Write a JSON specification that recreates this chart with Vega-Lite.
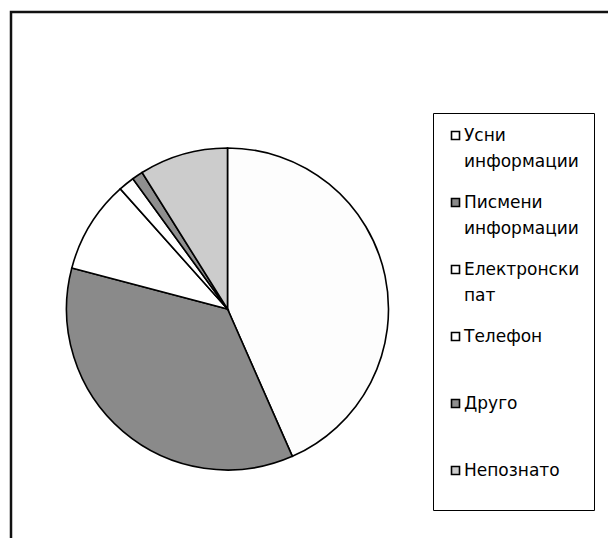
{
  "$schema": "https://vega.github.io/schema/vega-lite/v6.json",
  "width": 600,
  "height": 530,
  "padding": {"left": 11, "top": 12, "right": 0, "bottom": 0},
  "autosize": {"type": "none"},
  "background": "white",
  "view": {"stroke": "#111111", "strokeWidth": 2.5},
  "data": {
    "values": [
      {"source": "Усни информации", "share": 43.4, "order": 1},
      {"source": "Писмени информации", "share": 35.7, "order": 2},
      {"source": "Електронски пат", "share": 9.3, "order": 3},
      {"source": "Телефон", "share": 1.6, "order": 4},
      {"source": "Друго", "share": 1.1, "order": 5},
      {"source": "Непознато", "share": 8.9, "order": 6}
    ]
  },
  "mark": {
    "type": "arc",
    "outerRadius": 161,
    "x": 216.5,
    "y": 297,
    "stroke": "#000000",
    "strokeWidth": 1.6
  },
  "encoding": {
    "theta": {"field": "share", "type": "quantitative", "stack": true},
    "order": {"field": "order", "type": "quantitative"},
    "color": {
      "field": "source",
      "type": "nominal",
      "sort": ["Усни информации", "Писмени информации", "Електронски пат", "Телефон", "Друго", "Непознато"],
      "scale": {
        "domain": ["Усни информации", "Писмени информации", "Електронски пат", "Телефон", "Друго", "Непознато"],
        "range": ["#fdfdfd", "#8a8a8a", "#ffffff", "#ffffff", "#8f8f8f", "#cccccc"]
      },
      "legend": {
        "title": null,
        "orient": "none",
        "legendX": 422,
        "legendY": 101,
        "padding": 14,
        "strokeColor": "#000000",
        "symbolType": "square",
        "symbolSize": 64,
        "symbolStrokeColor": "#000000",
        "symbolStrokeWidth": 1.6,
        "labelFont": "DejaVu Sans",
        "labelFontSize": 17,
        "labelColor": "#000000",
        "labelOffset": 0,
        "labelLimit": 200,
        "rowPadding": 23,
        "labelExpr": "indexof(datum.label, ' ') > 0 ? split(datum.label, ' ') : [datum.label, ' ']",
        "encode": {
          "labels": {"update": {"lineHeight": {"signal": "datum.value === 'Непознато' ? 17 : 26"}}}
        }
      }
    }
  }
}
